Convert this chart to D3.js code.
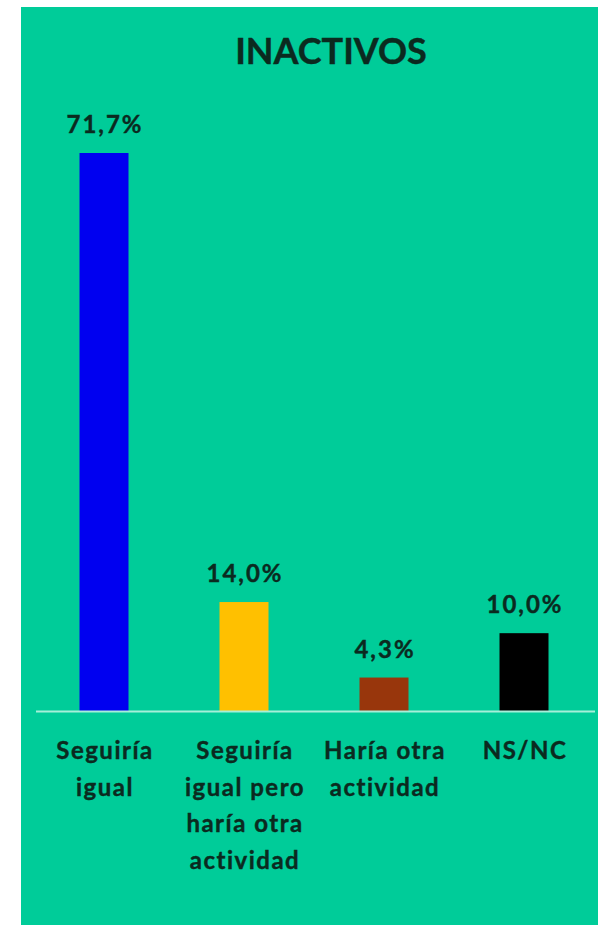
<!DOCTYPE html>
<html>
<head>
<meta charset="utf-8">
<script src="https://cdn.jsdelivr.net/npm/d3@7"></script>
<style>
  html, body { margin: 0; padding: 0; background: #ffffff; }
  svg { display: block; }
</style>
</head>
<body>
<svg id="chart" width="600" height="925"></svg>
<script>
// ---- data ----
const title = "INACTIVOS";
const categories = [
  ["Seguiría", "igual"],
  ["Seguiría", "igual pero", "haría otra", "actividad"],
  ["Haría otra", "actividad"],
  ["NS/NC"]
];
const values = [71.7, 14.0, 4.3, 10.0];
const valueLabels = ["71,7%", "14,0%", "4,3%", "10,0%"];
const barColors = ["#0000f0", "#ffc000", "#98360c", "#000000"];

// ---- layout ----
const W = 600, H = 925;
const svg = d3.select("#chart");
const font = "Lato, 'Open Sans', sans-serif";
const textColor = "#0b2a1f";

svg.append("rect")
  .attr("x", 21).attr("y", 7)
  .attr("width", 577).attr("height", H - 7)
  .attr("fill", "#00cc99");

const baseY = 711;
const x = d3.scaleBand()
  .domain(d3.range(values.length))
  .range([34, 594])
  .paddingInner(0.65)
  .paddingOuter(0.325);

const y = d3.scaleLinear()
  .domain([0, 71.7])
  .range([baseY, 153]);

// title
svg.append("text")
  .attr("x", 331).attr("y", 64)
  .attr("text-anchor", "middle")
  .attr("font-family", font)
  .attr("font-weight", "bold")
  .attr("font-size", 36)
  .attr("fill", textColor)
  .attr("stroke", textColor)
  .attr("stroke-width", 0.4)
  .text(title);

// bars
svg.selectAll("rect.bar")
  .data(values)
  .enter().append("rect")
  .attr("class", "bar")
  .attr("x", (d, i) => x(i))
  .attr("width", x.bandwidth())
  .attr("y", d => y(d))
  .attr("height", d => baseY - y(d))
  .attr("fill", (d, i) => barColors[i]);

// baseline
svg.append("line")
  .attr("x1", 36).attr("x2", 595)
  .attr("y1", baseY + 0.5).attr("y2", baseY + 0.5)
  .attr("stroke", "#a6efd9")
  .attr("stroke-width", 2);

// value labels
svg.selectAll("text.val")
  .data(values)
  .enter().append("text")
  .attr("class", "val")
  .attr("x", (d, i) => x(i) + x.bandwidth() / 2 + 1)
  .attr("y", d => y(d) - 20)
  .attr("text-anchor", "middle")
  .attr("font-family", font)
  .attr("font-weight", "bold")
  .attr("font-size", 24)
  .attr("letter-spacing", 2)
  .attr("fill", textColor)
  .attr("stroke", textColor)
  .attr("stroke-width", 0.4)
  .text((d, i) => valueLabels[i]);

// category labels
const catG = svg.selectAll("text.cat")
  .data(categories)
  .enter().append("text")
  .attr("class", "cat")
  .attr("text-anchor", "middle")
  .attr("font-family", font)
  .attr("font-weight", "bold")
  .attr("font-size", 24)
  .attr("letter-spacing", 1.5)
  .attr("fill", textColor)
  .attr("stroke", textColor)
  .attr("stroke-width", 0.4);

catG.each(function(lines, i) {
  const t = d3.select(this);
  lines.forEach((ln, j) => {
    t.append("tspan")
      .attr("x", x(i) + x.bandwidth() / 2 + 1)
      .attr("y", 759 + j * 36.5)
      .text(ln);
  });
});
</script>
</body>
</html>
